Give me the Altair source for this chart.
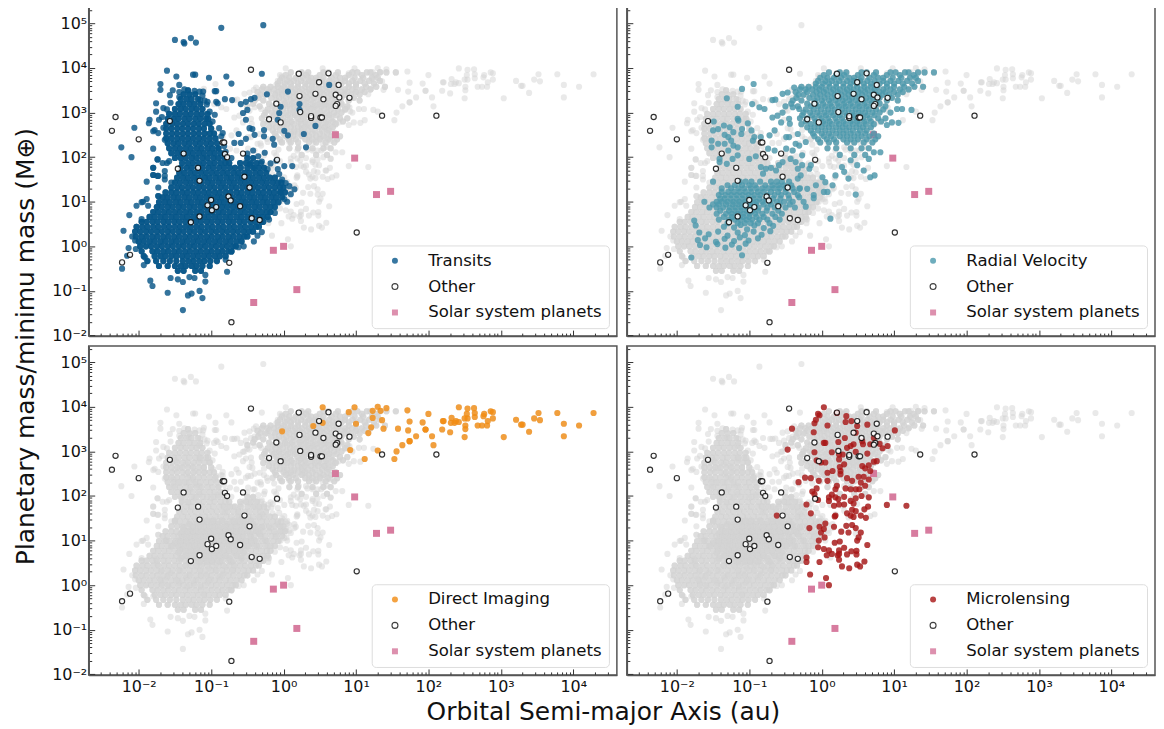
import altair as alt
import pandas as pd

# All values are log10(semi-major axis / au), log10(mass / Earth masses).
transit_core = {
-0.55:[-1.46,-1.38,-1.22,-1.14],
-0.44:[-1.72,-1.6,-1.5,-1.42,-1.35,-1.27,-1.2,-1.12,-1.02],
-0.33:[-1.88,-1.76,-1.66,-1.57,-1.48,-1.39,-1.31,-1.24,-1.16,-1.09,-1.01,-.92],
-0.22:[-1.93,-1.78,-1.7,-1.63,-1.55,-1.48,-1.4,-1.33,-1.25,-1.18,-1.1,-1.03,-.95,-.88,-.8],
-0.11:[-1.96,-1.81,-1.74,-1.66,-1.59,-1.51,-1.44,-1.36,-1.29,-1.21,-1.14,-1.06,-.99,-.91,-.84,-.76,-.72],
0.0:[-1.98,-1.9,-1.83,-1.75,-1.68,-1.6,-1.53,-1.45,-1.38,-1.3,-1.23,-1.15,-1.08,-1.0,-.93,-.85,-.78,-.7,-.66],
0.11:[-2.0,-1.93,-1.85,-1.78,-1.7,-1.63,-1.55,-1.48,-1.4,-1.33,-1.25,-1.18,-1.1,-1.03,-.95,-.88,-.8,-.73,-.65,-.58],
0.22:[-2.04,-1.96,-1.89,-1.81,-1.74,-1.66,-1.59,-1.51,-1.44,-1.36,-1.29,-1.21,-1.14,-1.06,-.99,-.91,-.84,-.76,-.69,-.61,-.54,-.5],
0.33:[-2.05,-1.98,-1.9,-1.83,-1.75,-1.68,-1.6,-1.53,-1.45,-1.38,-1.3,-1.23,-1.15,-1.08,-1.0,-.93,-.85,-.78,-.7,-.63,-.55,-.48,-.42],
0.44:[-2.03,-1.95,-1.88,-1.8,-1.73,-1.65,-1.58,-1.5,-1.43,-1.35,-1.28,-1.2,-1.13,-1.05,-.98,-.9,-.83,-.75,-.68,-.6,-.53,-.45,-.38,-.34],
0.55:[-1.96,-1.89,-1.81,-1.74,-1.66,-1.59,-1.51,-1.44,-1.36,-1.29,-1.21,-1.14,-1.06,-.99,-.91,-.84,-.76,-.69,-.61,-.54,-.46,-.39,-.31,-.28],
0.66:[-1.85,-1.78,-1.7,-1.63,-1.55,-1.48,-1.4,-1.33,-1.25,-1.18,-1.1,-1.03,-.95,-.88,-.8,-.73,-.65,-.58,-.5,-.43,-.35,-.28,-.22],
0.77:[-1.8,-1.73,-1.65,-1.58,-1.5,-1.43,-1.35,-1.28,-1.2,-1.13,-1.05,-.98,-.9,-.83,-.75,-.68,-.6,-.53,-.45,-.38,-.3,-.23,-.18],
0.88:[-1.75,-1.68,-1.6,-1.53,-1.45,-1.38,-1.3,-1.23,-1.15,-1.08,-1.0,-.93,-.85,-.78,-.7,-.63,-.55,-.48,-.4,-.33,-.25,-.18,-.12],
0.99:[-1.72,-1.64,-1.57,-1.49,-1.42,-1.34,-1.27,-1.19,-1.12,-1.04,-.97,-.89,-.82,-.74,-.67,-.59,-.52,-.44,-.37,-.29,-.22,-.14,-.07],
1.1:[-1.67,-1.6,-1.52,-1.45,-1.37,-1.3,-1.22,-1.15,-1.07,-1.0,-.92,-.85,-.77,-.7,-.62,-.55,-.47,-.4,-.32,-.25,-.17,-.1,-.02],
1.21:[-1.63,-1.55,-1.48,-1.4,-1.33,-1.25,-1.18,-1.1,-1.03,-.95,-.88,-.8,-.73,-.65,-.58,-.5,-.43,-.35,-.28,-.2,-.13,-.05,.02],
1.32:[-1.55,-1.47,-1.4,-1.32,-1.25,-1.17,-1.1,-1.02,-.95,-.87,-.8,-.72,-.65,-.57,-.5,-.42,-.35,-.27,-.2,-.12,-.05,0.0],
1.43:[-1.5,-1.43,-1.35,-1.28,-1.2,-1.13,-1.05,-.98,-.9,-.83,-.75,-.68,-.6,-.53,-.45,-.38,-.3,-.23,-.15,-.08,-.03],
1.54:[-1.47,-1.39,-1.32,-1.24,-1.17,-1.09,-1.02,-.94,-.87,-.79,-.72,-.64,-.57,-.49,-.42,-.34,-.27,-.19,-.12],
1.65:[-1.44,-1.37,-1.29,-1.22,-1.14,-1.07,-.99,-.92,-.84,-.77,-.69,-.62,-.54,-.47,-.39,-.32,-.24],
1.76:[-1.42,-1.34,-1.27,-1.19,-1.12,-1.04,-.97,-.89,-.82,-.74,-.67,-.59,-.5,-.42,-.34,-.27],
1.87:[-1.4,-1.32,-1.25,-1.17,-1.1,-1.02,-.95,-.87,-.8,-.75,-.6,-.52,-.45,-.37],
1.98:[-1.5,-1.42,-1.35,-1.27,-1.2,-1.12,-1.05,-.97,-.9,-.82,-.5,-.42],
2.09:[-1.55,-1.47,-1.4,-1.32,-1.25,-1.17,-1.1,-1.02,-.95,-.87],
2.2:[-1.58,-1.5,-1.43,-1.35,-1.28,-1.2,-1.13,-1.05,-.98,-.9],
2.31:[-1.6,-1.52,-1.45,-1.37,-1.3,-1.22,-1.15,-1.07,-1.0,-.92],
2.42:[-1.62,-1.55,-1.47,-1.4,-1.32,-1.25,-1.17,-1.1,-1.02,-.94],
2.53:[-1.62,-1.54,-1.47,-1.39,-1.32,-1.24,-1.17,-1.09,-1.02,-.96],
2.64:[-1.62,-1.55,-1.47,-1.4,-1.32,-1.25,-1.17,-1.1,-1.0],
2.75:[-1.62,-1.54,-1.47,-1.39,-1.32,-1.24,-1.17,-1.09,-1.02],
2.86:[-1.6,-1.52,-1.45,-1.37,-1.3,-1.22,-1.15,-1.07,-1.04],
2.97:[-1.58,-1.5,-1.43,-1.35,-1.28,-1.2,-1.13,-1.05],
3.08:[-1.5,-1.42,-1.35,-1.27,-1.2,-1.12],
3.19:[-1.45,-1.38,-1.3,-1.23,-1.15],
3.3:[-1.42,-1.34,-1.27,-1.18],
3.41:[-1.38,-1.3,-1.22],
3.5:[-1.32],
}
transit_scatter = [
(-1.5,4.63),(-1.38,4.58),(-1.37,4.55),(-1.28,4.67),(-1.21,4.57),(-.86,4.9),(-.28,4.96),(-1.61,3.94),(-1.48,3.81),(-1.25,3.85),(-1.22,3.85),(-1.03,3.78),(-.79,3.81),(-.72,3.65),(-.3,3.87),
(-1.7,3.64),(-1.7,3.51),(-1.44,3.62),(-1.57,3.39),(-1.53,3.5),(-1.44,3.46),(-1.44,3.35),(-1.37,3.52),(-1.23,3.49),(-1.16,3.47),(-1.11,3.47),(-.95,3.48),(-.93,3.48),(-1.15,3.28),(-1.09,3.27),(-1.05,3.24),(-.93,3.24),(-.81,3.3),(-.71,3.28),(-.59,3.19),(-.52,3.24),(-.45,3.3),(-.4,3.33),
(-1.76,3.21),(-1.61,3.07),(-1.76,3.02),(-1.85,2.84),(-1.86,2.76),(-1.72,2.84),(-1.78,2.61),(-1.8,2.58),(-1.73,2.54),(-1.64,2.39),(-1.74,1.95),(-1.8,1.76),(-1.61,1.87),(-1.64,1.69),(-1.8,1.6),(-1.74,1.58),(-1.64,1.58),(-1.55,1.43),(-1.73,1.13),(-1.89,1.06),(-1.96,.99),
(-.91,3.21),(-.56,2.99),(-.5,3.06),(-.52,2.84),(-.47,2.65),(-.43,2.63),(-.27,2.61),(-.4,2.5),(-.27,2.47),(-.52,2.41),(-.62,2.52),(-.68,2.32),(-.59,2.32),(-.15,2.41),(-.13,2.28),(.06,2.49),(.01,2.59),(-.06,2.99),(-.08,2.84),(-.04,3.13),(.22,3.19),(.22,3.06),(.28,2.52),(.31,2.22),(.44,2.7),(-.86,2.47),(-.89,2.65),(-.84,2.54),(.01,1.8),(.12,1.8),(-.08,1.73),(-.31,1.87),(-.47,1.84),(-.4,1.76),(-.22,1.73),(.15,1.28),(.1,1.17),(-.04,1.21),(.01,1.06),(-.23,3.41),(.06,3.47),(.63,3.62),
(-2.24,2.22),(-2.1,2.0),(-2.06,2.66),(-1.89,1.45),(-2.03,.91),(-1.94,1.0),(-2.13,.7),(-2.21,.35),(-2.09,.22),(-2.14,-.04),(-2.16,-.21),(-2.23,-.5),(-2.05,.13),(-2.04,-.06),(-1.93,-.42),(-1.91,-.25),(-1.84,-.77),(-1.81,-.89),(-1.6,-1.04),(-1.56,-.71),(-1.39,-1.43),(-1.32,-1.1),(-1.27,-1.06),(-1.16,-1.0),(-1.12,-1.16),(-1.46,-.74),(-1.39,-.8),(-1.3,-.69),(-1.23,-.71),(-1.08,-.64),(-1.08,-.79),(-.78,-.57),(-.72,-.12),(-.41,.11),(-.36,.24),
(-1.8,2.19),(-1.74,1.95),(-1.67,1.87),(-1.58,1.91),(-1.8,1.76),(-1.8,1.6),(-1.73,1.58),(-1.64,1.5),(-1.73,1.32),(-1.73,1.13),(-1.87,.91),(-1.96,.61),(-.8,-.3),(-.62,-.02),(-.55,.0),(-.3,.32),(-.2,.6),(-.12,.75),(.05,1.0),(.08,1.35),
(-.3,1.9),(-.18,1.86),(-.1,1.92),(-.35,2.02),(-.26,2.1),(-.5,2.08),(-.42,2.15),(-.06,1.62),(-.02,1.5),(.03,1.42),(-1.66,2.66),(-1.68,2.9),(-1.66,3.1),(-1.56,3.22),(-1.02,3.02),(-.98,2.8),(-.95,2.95),(-1.06,3.18),(-1.12,3.38),(-.9,2.2),(-.82,2.25),(-.8,2.12),(-.72,1.98),
]
rv_core = {
3.9:[.1,.25,.34,.55,.62,.75,.95,1.02,1.15,1.2,1.33,1.42,1.55],
3.84:[.03,.2,.31,.5,.72,.9,1.08,1.27],
3.78:[-.02,.08,.17,.27,.38,.45,.55,.66,.78,.85,.98,1.1,1.22,1.3],
3.71:[-.05,.05,.14,.24,.35,.44,.53,.63,.73,.85,.95,1.06,1.18,1.33],
3.65:[-.08,.02,.1,.2,.3,.4,.48,.58,.68,.8,.9,1.0,1.12,1.25],
3.58:[-.28,-.18,-.08,.0,.11,.2,.3,.39,.49,.59,.68,.77,.9,1.0,1.14,1.28,1.4],
3.52:[-.3,-.22,-.13,-.03,.06,.16,.25,.35,.44,.54,.63,.73,.85,.95,1.08,1.2],
3.46:[-.36,-.2,-.07,.03,.13,.22,.32,.41,.51,.6,.7,.8,.88,1.0,1.12],
3.4:[-.32,-.25,-.12,-.02,.08,.18,.27,.37,.46,.56,.66,.75,.84,.93,1.05],
3.33:[-.35,-.17,-.06,.04,.14,.24,.33,.42,.52,.62,.71,.8,.97],
3.27:[-.4,-.28,-.1,.0,.1,.19,.29,.38,.47,.57,.66,.76,.9,1.05],
3.2:[-.42,-.2,-.08,.02,.12,.22,.31,.4,.5,.59,.69,.8],
3.14:[-.5,-.33,-.15,-.05,.05,.14,.24,.33,.43,.52,.62,.72,.88],
3.07:[-.22,-.11,-.01,.09,.18,.28,.37,.47,.56,.65,.75,.85],
3.0:[-.25,-.16,-.06,.04,.13,.23,.32,.42,.51,.6,.7,.8],
2.94:[-.27,-.13,-.03,.06,.16,.25,.35,.44,.54,.63,.73],
2.87:[-.3,-.2,-.1,.0,.09,.19,.28,.38,.47,.57,.66,.78,.88],
2.8:[-.22,-.08,.02,.11,.21,.3,.4,.49,.59,.68,.82],
2.74:[-.28,-.15,-.05,.05,.14,.24,.33,.43,.52,.61,.72],
2.67:[-.2,-.1,.0,.1,.2,.29,.38,.48,.57,.68],
2.6:[-.15,-.05,.05,.15,.25,.34,.43,.53,.62],
2.53:[-.12,0,.1,.2,.3,.4,.5,.6,.72],
2.47:[-.1,.03,.13,.25,.35,.45,.55,.66,.78],
2.4:[-.05,.07,.17,.3,.4,.5,.62,.74],
2.33:[-.02,.1,.2,.35,.45,.58,.7],
2.2:[.08,.2,.4,.55,.65],
2.05:[.25,.45,.6],
1.45:[-1.5,-1.13,-1.05,-.97,-.85,-.7,-.62,-.55,-.45],
1.37:[-1.3,-1.2,-1.1,-1.0,-.92,-.78,-.68,-.6,-.52,-.42],
1.3:[-1.38,-1.25,-1.15,-1.07,-.98,-.9,-.82,-.74,-.66,-.58,-.5,-.4,-.3],
1.22:[-1.38,-1.29,-1.21,-1.13,-1.05,-.97,-.88,-.8,-.7,-.6,-.5,-.38],
1.15:[-1.42,-1.33,-1.25,-1.17,-1.09,-1.01,-.93,-.85,-.75,-.65,-.56,-.46,-.33],
1.07:[-1.4,-1.34,-1.26,-1.18,-1.1,-1.02,-.94,-.86,-.77,-.67,-.57,-.45],
1.0:[-1.62,-1.45,-1.38,-1.3,-1.22,-1.14,-1.06,-.98,-.9,-.82,-.72,-.62,-.52,-.4,-.25],
0.94:[-1.5,-1.42,-1.32,-1.23,-1.15,-1.07,-.99,-.91,-.8,-.7,-.58,-.44],
0.87:[-1.55,-1.45,-1.36,-1.27,-1.19,-1.11,-1.03,-.95,-.87,-.75,-.65,-.5,-.37],
0.8:[-1.4,-1.28,-1.2,-1.12,-1.04,-.96,-.88,-.76,-.6],
0.73:[-1.45,-1.32,-1.24,-1.16,-1.08,-1.0,-.92,-.82,-.68,-.55],
0.66:[-1.35,-1.24,-1.16,-1.08,-1.0,-.9,-.8,-.64],
0.6:[-1.42,-1.28,-1.2,-1.12,-1.04,-.96,-.86,-.75,-.58],
0.52:[-1.3,-1.16,-1.06,-.98,-.88,-.72],
}
rv_scatter = [
(-1.1,3.53),(-.94,3.64),(-1.31,3.32),(-1.16,3.13),(-.96,3.19),(-.86,3.12),(-.79,3.08),(-.68,3.28),(-.64,3.29),(-.54,3.42),(-.47,3.45),(-.38,3.56),(-1.49,2.8),(-1.5,2.6),(-1.43,2.63),(-1.35,2.71),(-1.27,2.67),(-1.22,2.56),(-1.34,2.5),(-1.29,2.45),(-1.16,2.86),(-1.15,2.82),(-1.02,2.76),(-1.1,2.63),(-1.11,2.52),(-.97,2.6),(-.93,2.45),(-.84,2.45),(-.72,2.49),(-.65,2.6),(-.68,2.89),(-.61,2.93),(-.54,3.0),(-.4,3.12),(-.31,3.08),(-.45,2.86),(-.56,2.78),(-.44,2.75),(-.49,2.45),(-.45,2.45),(-.33,2.52),
(-1.52,2.37),(-1.43,2.3),(-1.52,2.22),(-1.34,2.3),(-1.25,2.37),(-1.22,2.26),(-1.29,2.15),(-1.16,2.22),(-1.41,1.96),(-1.41,1.89),(-1.31,1.85),(-1.23,1.96),(-1.16,2.04),(-1.0,1.96),(-.91,2.02),(-.95,2.37),(-.74,2.19),(-.65,2.15),(-.49,2.19),(-.4,2.15),(-.31,2.26),(-.36,2.3),(-.22,2.34),(-.27,2.04),(-.54,1.89),(-.59,1.82),(-.84,1.78),(-.77,1.74),(-.7,1.76),(-.63,1.7),(-.81,1.63),(-.43,1.96),(-.36,1.89),(-.27,1.82),(-.33,1.74),(-.29,1.59),(-.33,1.52),(-.15,1.82),(-.17,1.74),(.01,1.55),(.05,1.44),(.15,1.37),(.19,1.59),(.08,1.22),(.03,1.22),(.37,1.52),(.47,1.16),(.12,.62),(-.08,1.37),(-.2,1.29),(-.11,1.15),(-.11,1.08),(-.22,.89),(-.31,1.29),(-.31,1.1),(.31,1.67),(.28,1.78),(.4,1.93),(.49,1.82),(.58,1.7),(.67,1.55),(.73,1.59),(.65,1.96),(.81,2.11),(.72,2.11),(.9,2.72),(.97,2.78),(1.06,2.77),(1.24,3.06),(.95,3.0),(1.04,3.08),(1.11,3.08),(-1.8,-.25),(-1.1,-.2),
(-1.76,.58),(-1.74,.47),(-1.35,.44),(-1.21,.42),(-1.12,.48),(-1.03,.38),(-.93,.47),(-.8,.41),(-.67,.46),(-1.69,.31),(-1.56,.27),(-1.43,.33),(-1.3,.24),(-1.16,.31),(-1.06,.25),(-.94,.33),(-.83,.26),(-.71,.34),(-1.71,.14),(-1.61,.18),(-1.46,.1),(-1.34,.17),(-1.21,.12),(-1.13,.2),(-1.01,.13),(-.88,.18),(-1.68,.03),(-1.59,-.02),(-1.44,.05),(-1.33,-.03),(-1.24,.04),(-1.14,-.04),(-1.05,.06),
]
direct_imaging = [
(-.02,3.45),(.41,3.57),(.54,3.99),(.54,3.64),(.9,3.88),(.98,3.99),(1.0,3.62),(.92,3.03),(1.12,2.83),(1.17,3.41),(1.21,3.54),(1.23,3.75),(1.23,3.91),(1.34,3.91),(1.3,4.0),(1.42,3.97),(1.36,3.7),(1.38,3.51),(1.3,3.02),(1.53,2.83),(1.56,3.0),(1.64,3.14),(1.58,3.51),(1.71,3.92),(1.74,3.67),(1.72,3.47),(1.74,3.23),(1.74,3.23),(1.83,3.34),(1.92,3.65),(2.0,3.84),(1.96,3.49),(1.96,3.49),(2.05,3.34),(2.07,3.14),(2.19,3.49),(2.2,3.68),(2.21,3.68),(2.3,3.43),(2.32,3.75),(2.31,3.64),(2.36,3.64),(2.38,3.68),(2.42,3.66),(2.42,3.99),(2.5,3.74),(2.5,3.32),(2.51,3.5),(2.51,3.58),(2.54,3.74),(2.53,3.84),(2.54,3.96),(2.63,3.97),(2.64,3.86),(2.64,3.77),(2.68,3.58),(2.74,3.58),(2.76,3.79),(2.77,3.84),(2.81,3.58),(2.82,3.68),(2.86,3.9),(2.89,3.88),(2.89,3.74),(3.04,3.32),(3.21,3.71),(3.28,3.6),(3.3,3.6),(3.39,3.44),(3.46,3.74),(3.52,3.86),(3.54,3.7),(3.78,3.86),(3.87,3.62),(3.87,3.34),(4.08,3.58),(4.28,3.86),
]
microlensing = [
(.03,3.99),(-.05,3.84),(-.03,3.81),(-.08,3.71),(-.1,3.63),(.21,3.86),(-.41,3.51),(.08,3.58),(-.11,3.43),(-.47,3.04),(.03,3.19),(.05,3.19),(.23,3.21),(.32,3.3),(.34,3.79),(.33,3.66),(.41,3.68),(.49,3.57),(.63,3.6),(.47,3.42),(1.01,3.47),(.91,3.12),(.84,3.07),(.72,3.3),(.8,3.17),(.67,3.16),(.57,3.16),(.56,3.23),(.44,3.16),(.4,3.12),(.35,3.08),(.29,2.93),(.24,2.93),(.14,2.98),(-.1,2.98),(.05,2.75),(-.01,2.75),(-.07,2.8),(.24,2.82),(.31,2.71),(.25,2.65),(.15,2.56),(.08,2.52),(.26,2.56),(.26,2.49),(.63,2.95),(.47,2.99),(.56,2.67),(.6,2.62),(.65,2.69),(.72,2.77),(.76,2.78),(.67,2.56),(.65,2.37),(.58,2.43),(.51,2.43),(.35,2.4),(.42,2.34),(.54,2.3),(.6,2.23),(.52,2.15),(.47,2.15),(.33,2.17),(.4,2.15),(.21,2.23),(.19,2.15),(.08,2.34),(-.04,2.34),(-.15,2.4),(-.23,2.41),(-.32,2.31),(-.07,2.17),(-.13,2.1),(-.1,2.04),(-.05,1.91),(-.21,1.81),(-.15,1.61),(.14,2.03),(.1,1.97),(.1,1.89),(.19,1.97),(.23,1.93),(.17,1.78),(.24,1.81),(.31,1.98),(.31,1.81),(.4,1.89),(.47,1.95),(.44,1.83),(.55,2.0),(.65,1.97),(.64,1.76),(.59,1.7),(.35,1.61),(.4,1.56),(.42,1.69),(.47,1.66),(.54,1.56),(.61,1.51),(.44,1.53),(.19,1.56),(.18,1.54),(.05,1.38),(-.03,1.31),(.03,1.26),(-.17,1.28),(-.62,1.56),(.17,1.31),(.34,1.33),(.42,1.35),(.47,1.28),(.54,1.18),(.51,1.07),(.49,1.0),(.27,1.2),(.37,1.18),(-.01,1.18),(-.04,1.0),(.04,1.07),(-.05,.85),(.03,.81),(.1,.78),(.18,.95),(.25,.98),(.31,.84),(.24,.78),(.14,.7),(.07,.67),(.24,.7),(.22,.67),(.24,.57),(.28,.42),(.38,.38),(.35,.69),(.41,.76),(.48,.77),(.48,.69),(.63,.9),(.59,.53),(.49,.46),(.53,.42),(-.03,.52),(-.21,.62),(-.21,.52),(-.16,.24),(.06,.16),(.1,0.0),(.9,1.8),(1.17,1.78),
]
other = [
(-.45,3.96),(.21,3.87),(-2.32,2.9),(-2.37,2.59),(-2.0,2.4),(-1.57,2.81),(-1.38,2.08),(-1.46,1.74),(-1.18,1.76),(-1.16,1.47),(-.84,2.33),(-.82,2.33),(-.81,2.07),(-.78,2.0),(-.56,2.08),(-.09,1.94),(-.1,3.2),(-.04,2.78),(-.2,2.85),(.22,3.37),(.23,3.01),(.38,2.88),(-.54,1.56),(-.47,1.32),(-.76,1.12),(-.73,1.03),(-.6,.9),(-1.0,1.04),(-1.05,.92),(-.99,.81),(-.93,.88),(-1.16,.67),(-1.28,.54),(-.44,.63),(-.33,.59),(-2.12,-.19),(-2.23,-.36),(-.75,-.37),(-.72,-1.7),
(.62,3.88),(.49,3.68),(.76,3.62),(.44,3.42),(.55,3.3),(.72,3.4),(.77,3.34),(.91,3.33),(.74,3.19),(.72,3.15),(.38,2.92),(.51,2.89),(.53,2.89),(1.36,2.93),(2.11,2.93),(1.01,.31),
]
solar_a = [0.387, 0.723, 1.0, 1.524, 5.2, 9.58, 19.2, 30.05]
solar_m = [0.055, 0.815, 1.0, 0.107, 318, 95.2, 14.5, 17.1]

COL = {"Transits": "#06568a", "Radial Velocity": "#4b99ad", "Direct Imaging": "#f28c12", "Microlensing": "#a81414"}
PINK = "#d5759a"
FONT = "DejaVu Sans"
W, H = 530, 330

def rows(core):
    return [(x, y) for y, xs in core.items() for x in xs]

def frame(pairs, name):
    return pd.DataFrame({"a": [10 ** p[0] for p in pairs], "m": [10 ** p[1] for p in pairs], "series": name})

SETS = {
    "Transits": frame(rows(transit_core) * 2 + transit_scatter, "Transits"),
    "Radial Velocity": frame(rows(rv_core) + rv_scatter, "Radial Velocity"),
    "Direct Imaging": frame(direct_imaging, "Direct Imaging"),
    "Microlensing": frame(microlensing, "Microlensing"),
}
OTHER = frame(other, "Other")
SOLAR = pd.DataFrame({"a": solar_a, "m": solar_m, "series": "Solar system planets"})
ALL = pd.concat(list(SETS.values()) + [OTHER, frame(rows(rv_core) * 2 + rows(transit_core), "Dense")], ignore_index=True)

def ticks(lo, hi):
    return [round(k * 10.0 ** e, 8) for e in range(lo, hi + 1) for k in range(1, 10)]

x_vals = [v for v in ticks(-3, 4) if 0.0021 <= v <= 38000]
y_vals = [v for v in ticks(-2, 5) if v <= 220000]
LOG = "log(datum.value)/LN10"
MAJOR = f"abs({LOG}-round({LOG}))<0.001"
LABEL = (f"{MAJOR} ? {{'-2':'10⁻²','-1':'10⁻¹','0':'10⁰','1':'10¹','2':'10²','3':'10³','4':'10⁴','5':'10⁵'}}[round({LOG})] : ''")
TICK = {"expr": f"{MAJOR} ? -6 : -3"}

def axis(vals, show, title, pad, **kw):
    return alt.Axis(values=vals, labels=show, labelExpr=LABEL, tickSize=TICK, labelPadding=pad, labelOverlap=False,
                    labelFont=FONT, labelFontSize=16, labelColor="#111", tickColor="#333", tickWidth=1,
                    domainColor="#555", domainWidth=1.5, grid=False, title=title, titleFont=FONT,
                    titleFontSize=25, titleFontWeight="normal", titleColor="#111", **kw)

def panel(name, show_x, show_y, xkw=None, ykw=None):
    xt = "Orbital Semi-major Axis (au)" if xkw else ""
    yt = "Planetary mass/minimu mass (M⊕)" if ykw else ""
    X = alt.X("a:Q", scale=alt.Scale(type="log", domain=[0.00204, 40000], nice=False),
              axis=axis(x_vals, show_x, xt, 10, **(xkw or {})))
    Y = alt.Y("m:Q", scale=alt.Scale(type="log", domain=[0.0097, 230000], nice=False),
              axis=axis(y_vals, show_y, yt, 8, **(ykw or {})))
    domain = [name, "Other", "Solar system planets"]
    legend = alt.Legend(orient="bottom-right", title=None, offset=8, fillColor="white", strokeColor="#ddd",
                        cornerRadius=4, padding=7, labelFont=FONT, labelFontSize=16.6, labelColor="#111",
                        symbolSize=36, symbolOpacity=0.8, symbolOffset=8, labelOffset=25, rowPadding=9,
                        symbolStrokeWidth=1.1, labelLimit=300)
    enc = dict(
        x=X, y=Y,
        fill=alt.Fill("series:N", scale=alt.Scale(domain=domain, range=[COL[name], "white", PINK]), legend=legend),
        stroke=alt.Stroke("series:N", scale=alt.Scale(domain=domain, range=["transparent", "#111", "transparent"]), legend=legend),
        shape=alt.Shape("series:N", scale=alt.Scale(domain=domain, range=["circle", "circle", "square"]), legend=legend),
    )
    grey = alt.Chart(ALL).mark_circle(size=38, color="#d3d3d3", opacity=0.5).encode(x=X, y=Y)
    solar = alt.Chart(SOLAR).mark_point(size=49, opacity=0.95, strokeWidth=0).encode(**enc)
    main = alt.Chart(SETS[name]).mark_point(size=38, opacity=0.8, strokeWidth=0).encode(**enc)
    oth = alt.Chart(OTHER).mark_point(size=27, opacity=0.85, strokeWidth=1.15).encode(**enc)
    return alt.layer(grey, solar, main, oth).properties(width=W, height=H)

p1 = panel("Transits", False, True, ykw=dict(titleX=-50, titleY=340))
p2 = panel("Radial Velocity", False, False)
p3 = panel("Direct Imaging", True, True, xkw=dict(titleX=516, titleY=25))
p4 = panel("Microlensing", True, False)

chart = (alt.concat(p1, p2, p3, p4, columns=2, spacing={"row": 10, "column": 10}, bounds="flush")
         .resolve_scale(fill="independent", stroke="independent", shape="independent")
         .configure_view(stroke="#555", strokeWidth=1.5)
         .properties(background="white", padding={"left": 5, "top": -9, "right": 0, "bottom": 0}))
chart.save("out.html", embed_options={"renderer": "svg", "actions": False})
